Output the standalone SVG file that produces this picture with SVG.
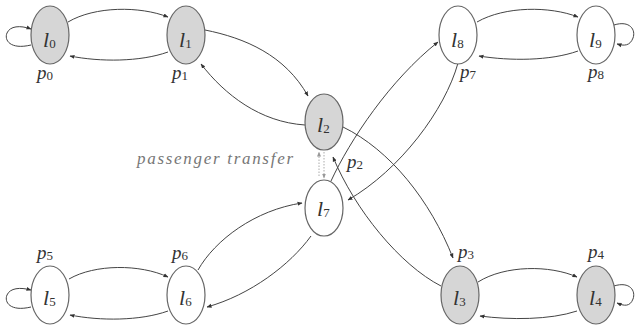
<svg xmlns="http://www.w3.org/2000/svg" width="639" height="327" viewBox="0 0 639 327">
<defs>
<marker id="ah" viewBox="0 0 10 10" refX="9" refY="5" markerWidth="5" markerHeight="5" orient="auto-start-reverse" markerUnits="userSpaceOnUse">
<path d="M0,1 L10,5 L0,9 Z" fill="#333"/>
</marker>
<marker id="ahl" viewBox="0 0 10 10" refX="9" refY="5" markerWidth="5" markerHeight="5" orient="auto-start-reverse" markerUnits="userSpaceOnUse">
<path d="M0,1 L10,5 L0,9 Z" fill="#999"/>
</marker>
</defs>
<style>
.n{stroke:#666;stroke-width:1.2}
.g{fill:#d6d6d6}
.w{fill:#ffffff}
.e{fill:none;stroke:#444;stroke-width:1;marker-end:url(#ah)}
.d{fill:none;stroke:#aaa;stroke-width:1;stroke-dasharray:1.5 1.5}
.t{font-family:"Liberation Serif",serif;font-style:italic;fill:#333}
.lb{font-size:22px}
.pl{font-size:19px}
.sb{font-size:13px;font-style:normal}
.tr{font-family:"Liberation Serif",serif;font-style:italic;font-size:17px;fill:#777}
</style>
<rect width="639" height="327" fill="#fff"/>
<g id="connectors">
<path class="e" d="M31,45 C10,50 4,40 7,33 C10,26 20,25 31,29"/>
<path class="e" d="M68,22 C95,6 140,6 168,17"/>
<path class="e" d="M168,52 C140,62 100,62 70,56"/>
<path class="e" d="M205,30 C245,38 285,55 308,96"/>
<path class="e" d="M305,125 C260,122 225,95 201,64"/>
<path class="e" d="M477,22 C505,6 550,6 578,17"/>
<path class="e" d="M578,51 C550,61 510,61 479,56"/>
<path class="e" d="M614,25 C630,20 636,30 633,38 C630,46 624,46 617,44"/>
<path class="e" d="M31,307 C10,312 4,302 7,295 C10,288 20,287 31,290"/>
<path class="e" d="M69,279 C95,264 140,264 168,277"/>
<path class="e" d="M168,311 C140,321 100,321 70,315"/>
<path class="e" d="M478,282 C505,265 550,265 577,277"/>
<path class="e" d="M577,311 C550,320 510,320 480,316"/>
<path class="e" d="M614,286 C630,281 636,291 633,299 C630,307 624,306 617,303"/>
<path class="e" d="M343,127 C390,150 430,200 453,258"/>
<path class="e" d="M441,286 C400,265 355,210 333,157"/>
<path class="e" d="M331,181 C350,140 390,80 438,42"/>
<path class="e" d="M458,63 C445,110 400,170 348,200"/>
<path class="e" d="M198,270 C215,240 255,210 302,203"/>
<path class="e" d="M311,236 C290,265 250,295 207,307"/>
<path class="d" d="M319,176 L319,152" marker-end="url(#ahl)"/>
<path class="d" d="M324,152 L324,178" marker-end="url(#ahl)"/>
</g>
<g id="l0"><ellipse class="n g" cx="50" cy="35" rx="19" ry="29"/><text class="t lb" x="43" y="47">l<tspan class="sb" dy="1">0</tspan></text></g>
<g id="l1"><ellipse class="n g" cx="186" cy="35" rx="19" ry="29"/><text class="t lb" x="179" y="47">l<tspan class="sb" dy="1">1</tspan></text></g>
<g id="l2"><ellipse class="n g" cx="324" cy="122" rx="19" ry="28"/><text class="t lb" x="317" y="132">l<tspan class="sb" dy="1">2</tspan></text></g>
<g id="l7"><ellipse class="n w" cx="324" cy="208" rx="19" ry="28"/><text class="t lb" x="317" y="216">l<tspan class="sb" dy="1">7</tspan></text></g>
<g id="l8"><ellipse class="n w" cx="458" cy="35" rx="19" ry="29"/><text class="t lb" x="451" y="47">l<tspan class="sb" dy="1">8</tspan></text></g>
<g id="l9"><ellipse class="n w" cx="596" cy="35" rx="19" ry="29"/><text class="t lb" x="589" y="47">l<tspan class="sb" dy="1">9</tspan></text></g>
<g id="l5"><ellipse class="n w" cx="50" cy="295" rx="19" ry="29"/><text class="t lb" x="43" y="305">l<tspan class="sb" dy="1">5</tspan></text></g>
<g id="l6"><ellipse class="n w" cx="186" cy="295" rx="19" ry="29"/><text class="t lb" x="179" y="305">l<tspan class="sb" dy="1">6</tspan></text></g>
<g id="l3"><ellipse class="n g" cx="460" cy="295" rx="19" ry="29"/><text class="t lb" x="453" y="305">l<tspan class="sb" dy="1">3</tspan></text></g>
<g id="l4"><ellipse class="n g" cx="596" cy="295" rx="19" ry="29"/><text class="t lb" x="589" y="305">l<tspan class="sb" dy="1">4</tspan></text></g>
<g id="labels">
<text class="t pl" x="37" y="79">p<tspan class="sb" dy="1">0</tspan></text>
<text class="t pl" x="172" y="79">p<tspan class="sb" dy="1">1</tspan></text>
<text class="t pl" x="460" y="78">p<tspan class="sb" dy="1">7</tspan></text>
<text class="t pl" x="588" y="78">p<tspan class="sb" dy="1">8</tspan></text>
<text class="t pl" x="37" y="259">p<tspan class="sb" dy="1">5</tspan></text>
<text class="t pl" x="172" y="259">p<tspan class="sb" dy="1">6</tspan></text>
<text class="t pl" x="458" y="258">p<tspan class="sb" dy="1">3</tspan></text>
<text class="t pl" x="588" y="258">p<tspan class="sb" dy="1">4</tspan></text>
<text class="t pl" x="347" y="168">p<tspan class="sb" dy="1">2</tspan></text>
<text class="tr" x="137" y="164" textLength="156" lengthAdjust="spacing">passenger transfer</text>
</g>
</svg>
